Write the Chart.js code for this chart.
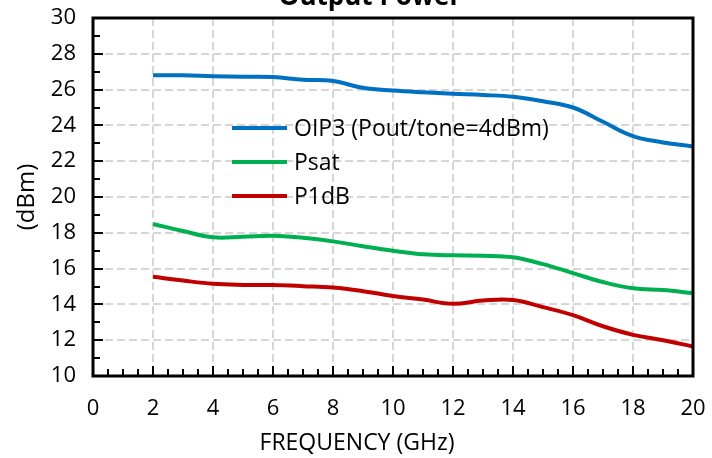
<!DOCTYPE html>
<html>
<head>
<meta charset="utf-8">
<script src="https://cdn.jsdelivr.net/npm/chart.js@4/dist/chart.umd.min.js"></script>
<style>
  html, body { margin: 0; padding: 0; background: #fff; }
  #wrap { position: relative; width: 712px; height: 458px; }
</style>
</head>
<body>
<div id="wrap"><canvas id="c" width="712" height="458"></canvas></div>
<script>
const titleText = "Output Power";
const xTitle = "FREQUENCY (GHz)";
const yTitle = "(dBm)";
const freqGHz = [2,3,4,5,6,7,8,9,10,11,12,13,14,15,16,17,18,19,20];
const oip3 = [26.8,26.8,26.75,26.72,26.7,26.55,26.48,26.1,25.95,25.85,25.77,25.7,25.6,25.35,25.0,24.2,23.4,23.05,22.82];
const psat = [18.49,18.1,17.75,17.78,17.84,17.72,17.52,17.25,17.0,16.8,16.74,16.72,16.63,16.25,15.75,15.25,14.9,14.8,14.63];
const p1db = [15.54,15.33,15.15,15.09,15.08,15.02,14.94,14.74,14.47,14.27,14.03,14.22,14.25,13.85,13.4,12.78,12.3,12.0,11.65];
const seriesNames = ["OIP3 (Pout/tone=4dBm)", "Psat", "P1dB"];
const seriesColors = ["#0070C0", "#00B050", "#C00000"];
const xMin = 0, xMax = 20, xStep = 2, xMinorStep = 0.5;
const yMin = 10, yMax = 30, yStep = 2, yMinorStep = 1;

const FONT = "'Open Sans', 'Liberation Sans', sans-serif";

function pts(arr) { return freqGHz.map((f, i) => ({ x: f, y: arr[i] })); }

const decor = {
  id: 'decor',
  afterDraw(chart) {
    const ctx = chart.ctx;
    const a = chart.chartArea;
    const xs = chart.scales.x, ys = chart.scales.y;
    ctx.save();
    // inward ticks
    ctx.strokeStyle = '#000';
    ctx.lineWidth = 2;
    for (let v = xMin; v <= xMax + 1e-9; v += xMinorStep) {
      const px = Math.round(xs.getPixelForValue(v));
      const major = Math.abs(v / xStep - Math.round(v / xStep)) < 1e-6;
      const len = major ? 10 : 7;
      ctx.beginPath(); ctx.moveTo(px, a.bottom); ctx.lineTo(px, a.bottom - len); ctx.stroke();
    }
    for (let v = yMin; v <= yMax + 1e-9; v += yMinorStep) {
      const py = Math.round(ys.getPixelForValue(v));
      const major = Math.abs(v / yStep - Math.round(v / yStep)) < 1e-6;
      const len = major ? 10 : 7;
      ctx.beginPath(); ctx.moveTo(a.left, py); ctx.lineTo(a.left + len, py); ctx.stroke();
    }
    // frame
    ctx.lineWidth = 3;
    ctx.strokeRect(a.left, a.top, a.right - a.left, a.bottom - a.top);
    // legend
    const lx0 = 232, lx1 = 287, tx = 294;
    const rows = [128, 162, 196];
    ctx.font = "23px " + FONT;
    ctx.textBaseline = 'middle';
    ctx.textAlign = 'left';
    chart.data.datasets.forEach((ds, i) => {
      ctx.strokeStyle = ds.borderColor;
      ctx.lineWidth = 4;
      ctx.beginPath(); ctx.moveTo(lx0, rows[i]); ctx.lineTo(lx1, rows[i]); ctx.stroke();
      ctx.fillStyle = '#000';
      ctx.fillText(ds.label, tx, rows[i] + 1);
    });
    // axis titles
    ctx.font = "23px " + FONT;
    ctx.textAlign = 'center';
    ctx.textBaseline = 'middle';
    ctx.fillText(xTitle, 357, 443);
    ctx.save();
    ctx.translate(27, 197);
    ctx.rotate(-Math.PI / 2);
    ctx.font = "24px " + FONT;
    ctx.fillText(yTitle, 0, 0);
    ctx.restore();
    // title (cut off at top)
    ctx.font = "bold 26px " + FONT;
    ctx.textAlign = 'center';
    ctx.textBaseline = 'alphabetic';
    ctx.fillText(titleText, 370, 5);
    ctx.restore();
  }
};

function noPad(s) { s.paddingTop = 0; s.paddingBottom = 0; s.paddingLeft = 0; s.paddingRight = 0; }

new Chart(document.getElementById('c'), {
  type: 'line',
  data: {
    datasets: [
      { label: seriesNames[0], data: pts(oip3), borderColor: seriesColors[0] },
      { label: seriesNames[1], data: pts(psat), borderColor: seriesColors[1] },
      { label: seriesNames[2], data: pts(p1db), borderColor: seriesColors[2] }
    ].map(d => Object.assign(d, { borderWidth: 4, pointRadius: 0, tension: 0.4, fill: false }))
  },
  options: {
    responsive: false,
    animation: false,
    layout: { padding: { top: 18, right: 19, left: 0, bottom: 0 } },
    plugins: { legend: { display: false }, tooltip: { enabled: false }, title: { display: false } },
    scales: {
      x: {
        type: 'linear', min: xMin, max: xMax,
        ticks: { stepSize: xStep, color: '#000', font: { family: FONT, size: 22 }, padding: 20 },
        grid: { color: '#d6d6d6', lineWidth: 2, drawTicks: false },
        border: { display: false, dash: [8, 4] },
        title: { display: false },
        afterFit(s) { s.height = 82; noPad(s); }
      },
      y: {
        min: yMin, max: yMax,
        ticks: { stepSize: yStep, color: '#000', font: { family: FONT, size: 22 }, padding: 17 },
        grid: { color: '#d6d6d6', lineWidth: 2, drawTicks: false },
        border: { display: false, dash: [8, 4] },
        title: { display: false },
        afterFit(s) { s.width = 93; noPad(s); }
      }
    }
  },
  plugins: [decor]
});
</script>
</body>
</html>
